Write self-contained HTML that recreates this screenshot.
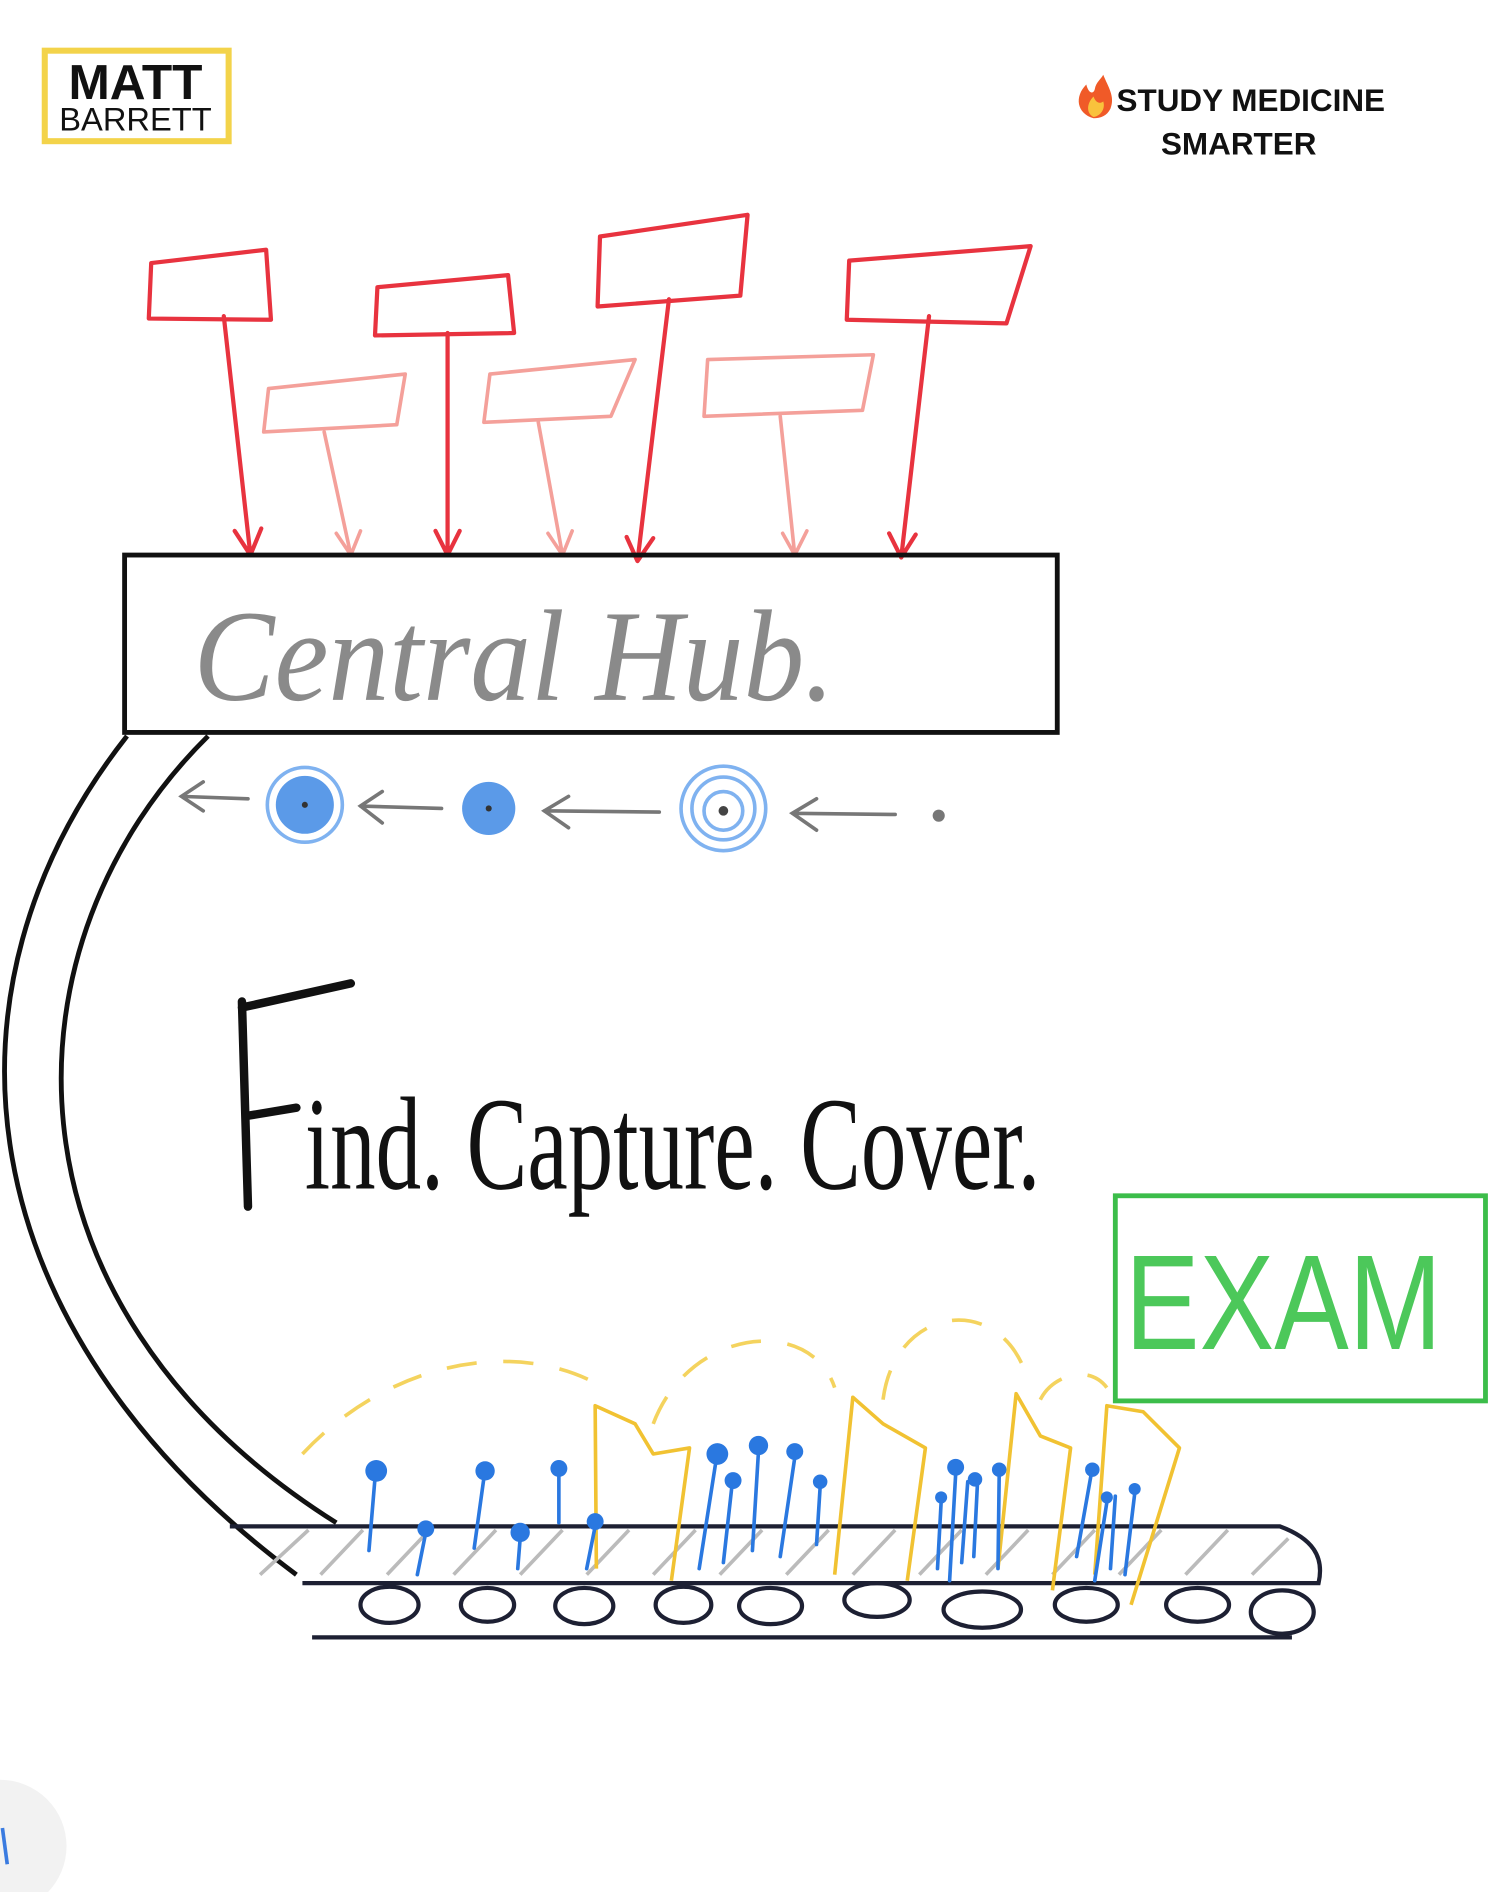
<!DOCTYPE html>
<html><head><meta charset="utf-8"><style>
html,body{margin:0;padding:0;background:#fff;}
svg{display:block;}
</style></head><body>
<svg width="1500" height="1892" viewBox="0 0 1240 1568" preserveAspectRatio="none" xmlns="http://www.w3.org/2000/svg">
<rect width="1240" height="1568" fill="#fff"/>
<!-- logo -->
<rect x="37" y="42" width="152" height="75" fill="none" stroke="#f3d34a" stroke-width="5"/>
<text x="112" y="82" font-family="Liberation Sans, sans-serif" font-weight="bold" font-size="41" text-anchor="middle" fill="#111">MATT</text>
<text x="112" y="108" font-family="Liberation Sans, sans-serif" font-size="27" text-anchor="middle" fill="#111">BARRETT</text>
<!-- study medicine -->
<path d="M904 98 C890 94 888 80 898 70 C900 78 904 78 905 74 C906 68 910 66 912 62 C916 72 922 80 918 90 C915 96 910 98 904 98Z" fill="#f05a28"/>
<path d="M904 97 C898 94 898 86 904 80 C906 86 910 86 912 84 C914 90 910 96 904 97Z" fill="#f9c23c"/>
<text x="923" y="92" font-family="Liberation Sans, sans-serif" font-weight="bold" font-size="26" fill="#111">STUDY MEDICINE</text>
<text x="1024" y="128" font-family="Liberation Sans, sans-serif" font-weight="bold" font-size="26" text-anchor="middle" fill="#111">SMARTER</text>
<!-- pink flags -->
<g fill="none" stroke="#f4a09a" stroke-width="3" stroke-linejoin="round" stroke-linecap="round">
<path d="M222 322 L335 310 L328 352 L218 358 Z"/>
<path d="M268 358 L290 460 M278 442 L290 460 L298 440"/>
<path d="M405 310 L525 298 L505 345 L400 350 Z"/>
<path d="M445 350 L465 460 M453 442 L465 460 L473 440"/>
<path d="M585 298 L722 294 L713 340 L582 345 Z"/>
<path d="M645 345 L657 460 M647 442 L657 460 L667 440"/>
</g>
<!-- red flags -->
<g fill="none" stroke="#e8333f" stroke-width="3.5" stroke-linejoin="round" stroke-linecap="round">
<path d="M125 218 L220 207 L224 265 L123 264 Z"/>
<path d="M185 262 L207 460 M194 440 L207 460 L216 438"/>
<path d="M312 238 L420 228 L425 276 L310 278 Z"/>
<path d="M370 276 L370 460 M360 440 L370 460 L380 440"/>
<path d="M496 196 L618 178 L612 245 L494 254 Z"/>
<path d="M553 248 L527 465 M518 445 L527 465 L540 446"/>
<path d="M702 216 L852 204 L832 268 L700 265 Z"/>
<path d="M768 262 L745 462 M735 442 L745 462 L757 443"/>
</g>
<!-- central hub -->
<rect x="103" y="460" width="771" height="147" fill="none" stroke="#111" stroke-width="4"/>
<text x="160" y="580" font-family="Liberation Serif, serif" font-style="italic" font-size="108" fill="#8a8a8a" textLength="530" lengthAdjust="spacingAndGlyphs">Central Hub.</text>
<!-- curved tube -->
<path d="M105 610 C-60 820 -30 1100 245 1305" fill="none" stroke="#111" stroke-width="4"/>
<path d="M172 610 C0 780 -10 1080 278 1262" fill="none" stroke="#111" stroke-width="4"/>
<!-- arrows row -->
<g fill="none" stroke="#777" stroke-width="3" stroke-linecap="round">
<path d="M205 662 L150 660 M168 648 L150 660 L168 672"/>
<path d="M365 670 L298 668 M316 656 L298 668 L316 682"/>
<path d="M545 673 L450 672 M470 660 L450 672 L470 686"/>
<path d="M740 675 L655 674 M675 662 L655 674 L675 688"/>
</g>
<circle cx="776" cy="676" r="5" fill="#777"/>
<circle cx="252" cy="667" r="24" fill="#5b9ae8"/>
<circle cx="252" cy="667" r="31" fill="none" stroke="#7fb2f0" stroke-width="3"/>
<circle cx="252" cy="667" r="2.5" fill="#333"/>
<circle cx="404" cy="670" r="22" fill="#5b9ae8"/>
<circle cx="404" cy="670" r="2.5" fill="#333"/>
<g fill="none" stroke="#7fb2f0" stroke-width="3">
<circle cx="598" cy="670" r="35"/><circle cx="598" cy="670" r="26"/><circle cx="598" cy="672" r="16"/>
</g>
<circle cx="598" cy="672" r="4" fill="#444"/>
<!-- Find capture cover -->
<path d="M200 830 L205 1000 M200 835 L290 815 M203 925 L245 918" stroke="#111" stroke-width="7" fill="none" stroke-linecap="round"/>
<text x="252" y="985" font-family="Liberation Serif, serif" font-size="110" fill="#111" textLength="608" lengthAdjust="spacingAndGlyphs">ind. Capture. Cover.</text>
<!-- exam -->
<rect x="922" y="991" width="306" height="170" fill="none" stroke="#3cbd4a" stroke-width="4"/>
<text x="930" y="1118" font-family="Liberation Sans, sans-serif" font-size="112" fill="#4cc85a" textLength="262" lengthAdjust="spacingAndGlyphs">EXAM</text>
<!-- yellow dashed arcs -->
<g fill="none" stroke="#f4d35e" stroke-width="3" stroke-dasharray="25 22">
<path d="M250 1205 C320 1130 420 1110 490 1145"/>
<path d="M540 1180 C570 1100 670 1090 690 1150"/>
<path d="M730 1160 C740 1080 830 1070 850 1145"/>
<path d="M860 1160 C870 1140 900 1130 915 1150"/>
</g>
<!-- conveyor -->
<g stroke="#bbb" stroke-width="3">
<path d="M215 1305 L255 1268 M265 1305 L300 1268 M320 1305 L355 1268 M375 1305 L410 1268 M430 1305 L465 1268 M485 1305 L520 1268 M540 1305 L575 1268 M595 1305 L630 1268 M650 1305 L685 1268 M705 1305 L740 1268 M760 1305 L795 1268 M815 1305 L850 1268 M870 1305 L905 1268 M925 1305 L960 1268 M980 1305 L1015 1268 M1035 1305 L1065 1275"/>
</g>
<g fill="none" stroke="#1d2033" stroke-width="3.5">
<path d="M190 1265 L1058 1265 C1085 1275 1095 1290 1090 1312 L250 1312"/>
<path d="M258 1357 L1068 1357"/>
<ellipse cx="322" cy="1330" rx="24" ry="15"/>
<ellipse cx="403" cy="1330" rx="22" ry="14"/>
<ellipse cx="483" cy="1331" rx="24" ry="15"/>
<ellipse cx="565" cy="1330" rx="23" ry="15"/>
<ellipse cx="637" cy="1331" rx="26" ry="15"/>
<ellipse cx="725" cy="1326" rx="27" ry="14"/>
<ellipse cx="812" cy="1334" rx="32" ry="15"/>
<ellipse cx="898" cy="1330" rx="26" ry="14"/>
<ellipse cx="990" cy="1330" rx="26" ry="14"/>
<ellipse cx="1060" cy="1336" rx="26" ry="18"/>
</g>
<!-- yellow shapes -->
<g fill="none" stroke="#f1c232" stroke-width="3" stroke-linejoin="round">
<path d="M493 1300 L492 1165 L525 1180 L540 1205 L570 1200 L555 1310"/>
<path d="M690 1305 L705 1158 L730 1180 L765 1200 L750 1310"/>
<path d="M825 1300 L840 1155 L860 1190 L885 1200 L870 1318"/>
<path d="M905 1305 L915 1165 L945 1170 L975 1200 L935 1330"/>
</g>
<!-- blue pins -->
<g stroke="#2a78e0" stroke-width="3" fill="none" stroke-linecap="round">
<path d="M310 1225 L305 1285 M352 1270 L345 1305 M400 1225 L392 1283 M430 1275 L428 1300 M462 1220 L462 1262 M492 1265 L485 1300 M592 1210 L578 1300 M605 1232 L598 1295 M627 1203 L622 1285 M657 1208 L645 1290 M678 1232 L675 1280 M790 1222 L785 1310 M778 1245 L775 1300 M800 1228 L795 1295 M808 1230 L805 1290 M826 1222 L825 1300 M902 1222 L890 1290 M915 1245 L905 1310 M922 1240 L918 1300 M938 1238 L930 1305"/>
</g>
<g fill="#2a78e0">
<circle cx="311" cy="1219" r="9"/><circle cx="352" cy="1267" r="7"/><circle cx="401" cy="1219" r="8"/><circle cx="430" cy="1270" r="8"/><circle cx="462" cy="1217" r="7"/><circle cx="492" cy="1261" r="7"/>
<circle cx="593" cy="1205" r="9"/><circle cx="606" cy="1227" r="7"/><circle cx="627" cy="1198" r="8"/><circle cx="657" cy="1203" r="7"/><circle cx="678" cy="1228" r="6"/>
<circle cx="790" cy="1216" r="7"/><circle cx="778" cy="1241" r="5"/><circle cx="806" cy="1226" r="6"/><circle cx="826" cy="1218" r="6"/>
<circle cx="903" cy="1218" r="6"/><circle cx="915" cy="1241" r="5"/><circle cx="938" cy="1234" r="5"/>
</g>
<!-- bottom-left corner circle -->
<circle cx="0" cy="1530" r="55" fill="#f2f2f2"/>
<path d="M2 1515 L6 1545" stroke="#3a7be0" stroke-width="3"/>
</svg>
</body></html>
